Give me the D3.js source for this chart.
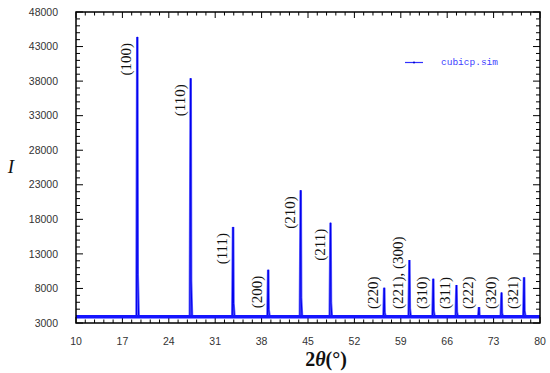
<!DOCTYPE html>
<html>
<head>
<meta charset="utf-8">
<script src="https://cdn.jsdelivr.net/npm/d3@7"></script>
<style>
  body { margin: 0; background: #fff; }
  svg { display: block; }
  .tick-label { font-family: "Liberation Sans", Arial, sans-serif; font-size: 10.5px; fill: #333; }
  .hkl { font-family: "Liberation Serif", "Times New Roman", serif; font-size: 15px; fill: #111; }
</style>
</head>
<body>
<div id="chart"></div>
<script>
// Peak data
const peakTheta = [19.25, 27.3, 33.7, 39.0, 43.9, 48.4, 56.5, 60.3, 63.9, 67.4, 70.8, 74.2, 77.6];
const peakIntensity = [44400, 38400, 16900, 10700, 22200, 17500, 8100, 12100, 9400, 8500, 5300, 7400, 9600];
const peakLabels = ["(100)", "(110)", "(111)", "(200)", "(210)", "(211)", "(220)", "(221), (300)", "(310)", "(311)", "(222)", "(320)", "(321)"];
const background = 3900;

const xTicks = [10, 17, 24, 31, 38, 45, 52, 59, 66, 73, 80];
const yTicks = [3000, 8000, 13000, 18000, 23000, 28000, 33000, 38000, 43000, 48000];
const legendLabel = "cubicp.sim";

const width = 550, height = 373;
const margin = { left: 76, right: 10, top: 12, bottom: 50 };

const svg = d3.select("#chart").append("svg")
    .attr("width", width)
    .attr("height", height);

const x = d3.scaleLinear().domain([10, 80]).range([margin.left, width - margin.right]);
const y = d3.scaleLinear().domain([3000, 48000]).range([height - margin.bottom, margin.top]);

const x0 = x.range()[0], x1 = x.range()[1];
const y0 = y.range()[0], y1 = y.range()[1];

// minor ticks: 5 per major interval
const xMinor = d3.range(10, 80.001, 1.4);
const yMinor = d3.range(3000, 48001, 1000);

const ticks = svg.append("g").attr("stroke", "#000").attr("stroke-width", 1);

// bottom & top (inward)
xMinor.forEach(v => {
    const major = xTicks.some(t => Math.abs(t - v) < 1e-6);
    const len = major ? 6 : 3.5;
    ticks.append("line").attr("x1", x(v)).attr("x2", x(v)).attr("y1", y0).attr("y2", y0 - len);
    ticks.append("line").attr("x1", x(v)).attr("x2", x(v)).attr("y1", y1).attr("y2", y1 + len);
});
// left & right (inward)
yMinor.forEach(v => {
    const major = yTicks.includes(v);
    const len = major ? 7 : 4;
    ticks.append("line").attr("y1", y(v)).attr("y2", y(v)).attr("x1", x0).attr("x2", x0 + len);
    ticks.append("line").attr("y1", y(v)).attr("y2", y(v)).attr("x1", x1).attr("x2", x1 - len);
});

// tick labels
svg.append("g").selectAll("text")
    .data(yTicks)
    .join("text")
    .attr("class", "tick-label")
    .attr("x", x0 - 18)
    .attr("y", d => y(d))
    .attr("dy", "0.35em")
    .attr("text-anchor", "end")
    .text(d => d);

svg.append("g").selectAll("text")
    .data(xTicks)
    .join("text")
    .attr("class", "tick-label")
    .attr("x", d => x(d))
    .attr("y", y0 + 18)
    .attr("dy", "0.35em")
    .attr("text-anchor", "middle")
    .text(d => d);

// pattern: flat background with a narrow spike per peak
const pts = [[10, background]];
peakTheta.forEach((t, i) => {
    pts.push([t - 0.12, background]);
    pts.push([t, peakIntensity[i]]);
    pts.push([t + 0.06, background + (peakIntensity[i] - background) * 0.15]);
    pts.push([t + 0.2, background]);
});
pts.push([80, background]);

const line = d3.line().x(d => x(d[0])).y(d => y(d[1]));

svg.append("path")
    .datum(pts)
    .attr("fill", "none")
    .attr("stroke", "#6060ff")
    .attr("stroke-width", 2.6)
    .attr("d", line);
svg.append("path")
    .datum(pts)
    .attr("fill", "none")
    .attr("stroke", "#0000ee")
    .attr("stroke-width", 1)
    .attr("d", line);
// thicker band along the background
svg.append("line")
    .attr("x1", x0).attr("x2", x1)
    .attr("y1", y(background)).attr("y2", y(background))
    .attr("stroke", "#1515ff").attr("stroke-width", 3.5);

// frame
svg.append("rect")
    .attr("x", x0).attr("y", y1)
    .attr("width", x1 - x0).attr("height", y0 - y1)
    .attr("fill", "none").attr("stroke", "#000").attr("stroke-width", 1.5);

// hkl labels, rotated, ending just under the peak top or resting near the baseline
const labelG = svg.append("g");
peakLabels.forEach((lab, i) => {
    const px = x(peakTheta[i]) - 6;
    const t = labelG.append("text").attr("class", "hkl").text(lab);
    const len = t.node().getComputedTextLength();
    const top = Math.min(y(peakIntensity[i]) + 6, y0 - 14 - len);
    t.attr("text-anchor", "end")
     .attr("transform", `translate(${px},${top}) rotate(-90)`);
});

// legend
const lg = svg.append("g");
lg.append("line").attr("x1", 405).attr("x2", 423).attr("y1", 62.5).attr("y2", 62.5)
    .attr("stroke", "#3030ff").attr("stroke-width", 1.2);
lg.append("circle").attr("cx", 414).attr("cy", 62.5).attr("r", 1).attr("fill", "#0000cc");
lg.append("text").attr("x", 441).attr("y", 65)
    .style("font-family", "'Liberation Mono', 'Courier New', monospace")
    .style("font-size", "9.5px")
    .attr("fill", "#4040ff")
    .text(legendLabel);

// axis titles
const xt = svg.append("text")
    .attr("x", 326).attr("y", 366)
    .attr("text-anchor", "middle")
    .style("font-family", "'Liberation Serif', 'Times New Roman', serif")
    .style("font-size", "20px")
    .style("font-weight", "bold")
    .attr("fill", "#111");
xt.append("tspan").text("2");
xt.append("tspan").style("font-style", "italic").text("θ");
xt.append("tspan").text("(°)");

svg.append("text")
    .attr("x", 11).attr("y", 173)
    .attr("text-anchor", "middle")
    .style("font-family", "'Liberation Serif', 'Times New Roman', serif")
    .style("font-size", "19px")
    .style("font-style", "italic")
    .attr("fill", "#111")
    .text("I");
</script>
</body>
</html>
